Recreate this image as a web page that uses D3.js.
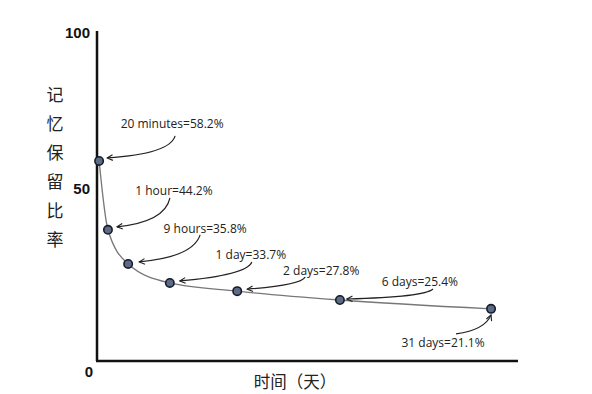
<!DOCTYPE html>
<html>
<head>
<meta charset="utf-8">
<script src="https://cdn.jsdelivr.net/npm/d3@7"></script>
<style>
  body { margin: 0; background: #fff; }
  svg { display: block; }
</style>
</head>
<body>
<div id="chart"></div>
<script>
// forgetting curve
const labels = ["20 minutes", "1 hour", "9 hours", "1 day", "2 days", "6 days", "31 days"];
const retention = [58.2, 44.2, 35.8, 33.7, 27.8, 25.4, 21.1];
// where each point sits on the sketch, in axis units (the drawing is not to scale)
const posX = [0.5, 2.6, 7.4, 17.3, 33.3, 57.7, 93.6];
const posY = [61, 40, 29.6, 23.8, 21.3, 18.6, 15.9];
const yTicks = [0, 50, 100];

// callout layout relative to the point: text centre, arrow start, arrow bend, arrow tip
const notes = [
  { text: [73, -37], start: [76, -25], ctrl: [71, -7], tip: [8, -3] },
  { text: [66, -39], start: [62, -32], ctrl: [57, -8], tip: [9, -3] },
  { text: [77, -35], start: [72, -29], ctrl: [65, -7], tip: [11, -2] },
  { text: [81, -28], start: [82, -21], ctrl: [77, -8], tip: [10, -2] },
  { text: [84, -20], start: [68, -14], ctrl: [63, -6], tip: [10, -2] },
  { text: [80, -18], start: [93, -11], ctrl: [85, -3], tip: [7, -1] },
  { text: [-48, 34], start: [-35, 25], ctrl: [-6, 21], tip: [0, 6] }
];

const width = 592, height = 394;
const x = d3.scaleLinear().domain([0, 100]).range([97, 518]);
const y = d3.scaleLinear().domain([0, 100]).range([361, 33]);

const svg = d3.select("#chart").append("svg")
  .attr("width", width)
  .attr("height", height);

svg.append("defs").append("marker")
  .attr("id", "arrow")
  .attr("viewBox", "0 0 10 10")
  .attr("refX", 9).attr("refY", 5)
  .attr("markerWidth", 7).attr("markerHeight", 7)
  .attr("markerUnits", "userSpaceOnUse")
  .attr("orient", "auto")
  .append("path")
  .attr("d", "M1,1 L9,5 L1,9")
  .attr("fill", "none")
  .attr("stroke", "#222")
  .attr("stroke-width", 1.6);

// axes
svg.append("line")
  .attr("x1", x(0)).attr("x2", x(0))
  .attr("y1", y(100) - 2).attr("y2", y(0))
  .attr("stroke", "#111").attr("stroke-width", 2.5);
svg.append("line")
  .attr("x1", x(0) - 1).attr("x2", x(100))
  .attr("y1", y(0)).attr("y2", y(0))
  .attr("stroke", "#111").attr("stroke-width", 2.5);

// tick labels (the sketch places them loosely)
const tickShift = { 0: 11, 50: -8, 100: 0 };
svg.selectAll("text.ytick")
  .data(yTicks)
  .enter()
  .append("text")
  .attr("class", "ytick")
  .attr("x", d => d === 0 ? x(0) - 4 : x(0) - 7)
  .attr("y", d => y(d) + tickShift[d])
  .attr("dy", "0.35em")
  .attr("text-anchor", "end")
  .style("font-family", "'Liberation Sans', Arial, sans-serif")
  .style("font-weight", "bold")
  .style("font-size", "15px")
  .attr("fill", "#111")
  .text(d => d);

// y title, stacked characters
const yTitle = "记忆保留比率".split("");
svg.selectAll("text.ytitle")
  .data(yTitle)
  .enter()
  .append("text")
  .attr("class", "ytitle")
  .attr("x", 55)
  .attr("y", (d, i) => 95 + i * 29)
  .attr("dy", "0.35em")
  .attr("text-anchor", "middle")
  .style("font-family", "'Noto Sans CJK SC', sans-serif")
  .style("font-size", "17px")
  .attr("fill", "#222")
  .text(d => d);

svg.append("text")
  .attr("x", 295)
  .attr("y", 382)
  .attr("dy", "0.35em")
  .attr("text-anchor", "middle")
  .style("font-family", "'Noto Sans CJK SC', sans-serif")
  .style("font-size", "16.5px")
  .attr("fill", "#222")
  .text("时间（天）");

// curve
const pts = posX.map((d, i) => [x(d), y(posY[i])]);
svg.append("path")
  .datum(pts)
  .attr("d", d3.line().curve(d3.curveMonotoneX))
  .attr("fill", "none")
  .attr("stroke", "#777")
  .attr("stroke-width", 1.3);

// callout arrows
svg.selectAll("path.callout")
  .data(notes)
  .enter()
  .append("path")
  .attr("class", "callout")
  .attr("d", (n, i) => {
    const [px, py] = pts[i];
    return "M" + (px + n.start[0]) + "," + (py + n.start[1]) +
      " Q" + (px + n.ctrl[0]) + "," + (py + n.ctrl[1]) +
      " " + (px + n.tip[0]) + "," + (py + n.tip[1]);
  })
  .attr("fill", "none")
  .attr("stroke", "#222")
  .attr("stroke-width", 1.2)
  .attr("marker-end", "url(#arrow)");

// points
svg.selectAll("circle.pt")
  .data(pts)
  .enter()
  .append("circle")
  .attr("class", "pt")
  .attr("cx", d => d[0])
  .attr("cy", d => d[1])
  .attr("r", 4.2)
  .attr("fill", "#5d6c86")
  .attr("stroke", "#161b28")
  .attr("stroke-width", 1.6);

// callout labels
svg.selectAll("text.note")
  .data(notes)
  .enter()
  .append("text")
  .attr("class", "note")
  .attr("x", (n, i) => pts[i][0] + n.text[0])
  .attr("y", (n, i) => pts[i][1] + n.text[1])
  .attr("dy", "0.35em")
  .attr("text-anchor", "middle")
  .style("font-family", "'Open Sans', sans-serif")
  .style("font-size", "12px")
  .attr("fill", "#222")
  .text((n, i) => labels[i] + "=" + retention[i] + "%");
</script>
</body>
</html>
